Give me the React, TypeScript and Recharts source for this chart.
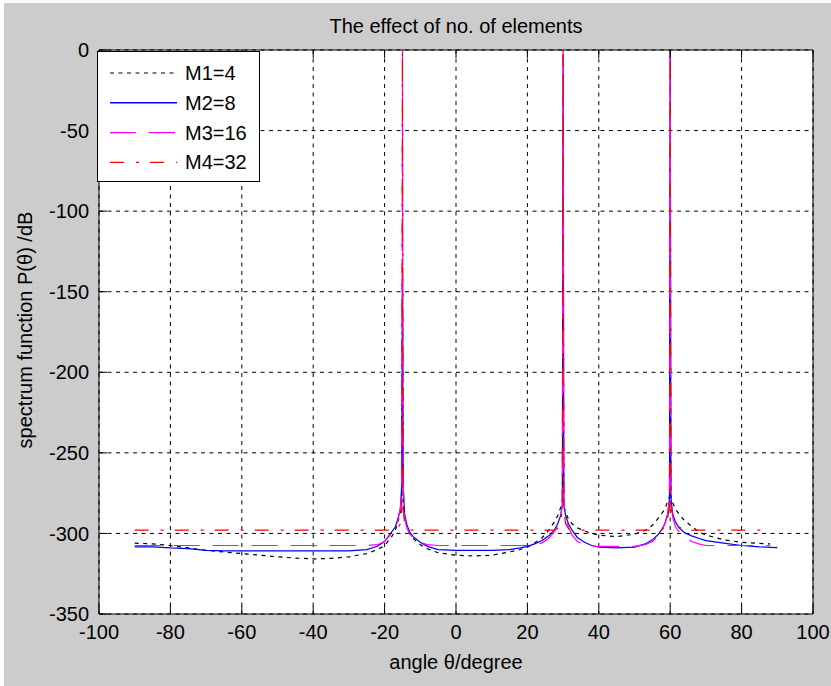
import React from "react";
import { LineChart, Line, XAxis, YAxis, CartesianGrid, Legend } from "recharts";

// angle grid (degrees), denser around the three sources
const angles = [
  -90, -85, -80, -75, -70, -65, -60, -55, -50, -45, -40, -35, -30, -25, -22, -20, -18, -17, -16.3, -15.6,
  -15.2, -15, -14.8, -14.4, -13.7, -13, -12, -10, -8, -5, 0, 5, 10, 15, 18, 20, 22, 24, 26, 27.5,
  28.5, 29.3, 29.8, 30, 30.2, 30.7, 31.5, 32.5, 34, 36, 38, 40, 45, 50, 53, 55, 56.5, 57.5, 58.5, 59.3,
  59.8, 60, 60.2, 60.7, 61.5, 62.5, 64, 66, 68, 70, 75, 80, 85, 88, 90,
];

const m1 = [
  -306, -306.5, -307.5, -309, -310.5, -311.5, -312.5, -313.5, -314.5, -315.3, -315.8, -315.5, -314.5, -312.5, -310, -307.5, -302, -298, -293, -287,
  -280, -143, -280, -290, -296, -300, -303, -307, -309.5, -312, -313.5, -314, -313.5, -311.5, -310, -308.5, -306, -303, -298, -293,
  -289, -284, -282, -145, -283, -287, -291, -294, -296.5, -298.5, -300, -301, -302, -300.5, -298, -295, -291, -288, -285, -280,
  -277, -140, -277, -281, -285, -288, -292, -295.5, -299, -301, -304, -305.5, -306.2, -306.5, null,
];

const m2 = [
  -308.3, -308.3, -309, -309.4, -310.5, -310.8, -310.8, -310.8, -310.8, -310.8, -310.8, -310.8, -310.8, -310, -308, -305, -299, -296, -291, -285,
  -270, -143, -270, -288, -295, -299, -302, -305.5, -308, -310, -310.5, -310.5, -310.5, -310, -309, -308, -306.5, -304.5, -301.5, -298,
  -294, -289, -282, -3, -282, -289, -294, -298, -302.5, -305.5, -307.5, -308.5, -309, -308.5, -306.5, -304, -301, -298, -294, -288,
  -278, 0, -278, -288, -293, -296.5, -299.5, -301.5, -303, -304.5, -306, -307.5, -308.3, -308.6, -308.8,
];

const m3 = [
  -307.5, -307.5, -307.5, -307.5, -307.5, -307.5, -307.5, -307.5, -307.5, -307.5, -307.5, -307.5, -307.5, -307.5, -307, -305, -300, -297, -292, -285,
  -270, 0, -270, -290, -297, -300, -303, -305.5, -307, -307.5, -307.5, -307.5, -307.5, -307.5, -307.5, -307.5, -307, -306, -303, -299,
  -295, -290, -282, 0, -280, -290, -296, -301, -305, -307, -308, -308, -308, -308, -307, -305, -302, -299, -294, -288,
  -278, 0, -278, -290, -296, -299, -302, -305, -306.5, -307.5, -307.5, -307.5, -307.5, -307.5, null,
];

const m4 = [
  -298, -298, -298, -298, -298, -298, -298, -298, -298, -298, -298, -298, -298, -298, -298, -298, -298, -298, -297, -294,
  -285, 0, -285, -294, -297, -298, -298, -298, -298, -298, -298, -298, -298, -298, -298, -298, -298, -298, -298, -298,
  -297, -294, -285, 0, -285, -294, -297, -298, -298, -298, -298, -298, -298, -298, -298, -298, -298, -298, -296, -290,
  -284, 0, -284, -288, -292, -296, -298, -298, -298, -298, -298, -298, -298, -298, null,
];

const xTicks = [-100, -80, -60, -40, -20, 0, 20, 40, 60, 80, 100];
const yTicks = [-350, -300, -250, -200, -150, -100, -50, 0];

const seriesNames = ["M1=4", "M2=8", "M3=16", "M4=32"];

const chartData = angles.map((a, i) => ({ angle: a, m1: m1[i], m2: m2[i], m3: m3[i], m4: m4[i] }));

const FONT = "'Liberation Sans', Arial, Helvetica, sans-serif";
const TICK_LEN = 8;
const X_MARGIN = 11;
const Y_MARGIN = 10;

const styles = [
  { color: "#000000", dash: "4 4.5" },
  { color: "#0000ff", dash: undefined },
  { color: "#ff00ff", dash: "26 13" },
  { color: "#ff0000", dash: "14 12 3 11" },
];

function BottomTick(props: any) {
  const { x, y, payload } = props;
  const axisY = y - X_MARGIN;
  return (
    <g>
      <line x1={x} x2={x} y1={axisY} y2={axisY - TICK_LEN} stroke="#000" />
      <text x={x} y={y} dy="0.71em" textAnchor="middle" fontSize={20} fontFamily={FONT} fill="#000">
        {payload.value}
      </text>
    </g>
  );
}

function TopTick(props: any) {
  const { x, y } = props;
  return <line x1={x} x2={x} y1={y} y2={y + TICK_LEN} stroke="#000" />;
}

function LeftTick(props: any) {
  const { x, y, payload } = props;
  const axisX = x + Y_MARGIN;
  return (
    <g>
      <line x1={axisX} x2={axisX + TICK_LEN} y1={y} y2={y} stroke="#000" />
      <text x={x} y={y} dy="0.355em" textAnchor="end" fontSize={20} fontFamily={FONT} fill="#000">
        {payload.value}
      </text>
    </g>
  );
}

function RightTick(props: any) {
  const { x, y } = props;
  return <line x1={x} x2={x - TICK_LEN} y1={y} y2={y} stroke="#000" />;
}

function LegendBox() {
  return (
    <div
      style={{
        width: 163,
        height: 131,
        boxSizing: "border-box",
        border: "1px solid #000",
        background: "#fff",
      }}
    >
      <svg width={161} height={129}>
        {seriesNames.map((name, i) => {
          const cy = 21 + i * 29.8;
          return (
            <g key={name}>
              <line
                x1={12}
                x2={79}
                y1={cy}
                y2={cy}
                stroke={styles[i].color}
                strokeWidth={i === 1 ? 1.5 : 1.2}
                strokeDasharray={styles[i].dash}
              />
              <text x={87} y={cy + 7} fontSize={20} fontFamily={FONT} fill="#000">
                {name}
              </text>
            </g>
          );
        })}
      </svg>
    </div>
  );
}

export default function App() {
  return (
    <div
      style={{
        position: "absolute",
        left: 0,
        top: 0,
        width: 831,
        height: 686,
        background: "#ffffff",
      }}
    >
      <div style={{ position: "absolute", left: 4, top: 3, width: 827, height: 683, background: "#cccccc" }} />
      <div style={{ position: "absolute", left: 0, top: 0 }}>
        <LineChart width={831} height={686} data={chartData} margin={{ top: 49, right: 17, bottom: 71, left: 98 }}>
          <CartesianGrid
            stroke="#000"
            strokeDasharray="4 4.5"
            fill="#ffffff"
            fillOpacity={1}
            horizontalValues={yTicks}
            verticalValues={xTicks}
          />
          <XAxis
            dataKey="angle"
            type="number"
            domain={[-100, 100]}
            ticks={xTicks}
            height={1}
            tickSize={0}
            tickMargin={X_MARGIN}
            tickLine={false}
            tick={<BottomTick />}
            axisLine={{ stroke: "#000" }}
            interval={0}
            label={{
              value: "angle θ/degree",
              position: "bottom",
              offset: 40,
              style: { fontSize: 20, fontFamily: FONT, fill: "#000" },
            }}
          />
          <XAxis
            xAxisId="top"
            orientation="top"
            dataKey="angle"
            type="number"
            domain={[-100, 100]}
            ticks={xTicks}
            height={1}
            tickSize={0}
            tickMargin={0}
            tickLine={false}
            tick={<TopTick />}
            axisLine={{ stroke: "#000" }}
            interval={0}
            label={{
              value: "The effect of no. of elements",
              position: "top",
              offset: 16,
              style: { fontSize: 20, fontFamily: FONT, fill: "#000" },
            }}
          />
          <YAxis
            type="number"
            domain={[-350, 0]}
            ticks={yTicks}
            width={1}
            tickSize={0}
            tickMargin={Y_MARGIN}
            tickLine={false}
            tick={<LeftTick />}
            axisLine={{ stroke: "#000" }}
            interval={0}
            label={{
              content: (p: any) => {
                const vb = p.viewBox || { x: 98, y: 50, width: 1, height: 564 };
                const cx = vb.x + (vb.width || 0) - 67;
                const cy = vb.y + vb.height / 2 - 2;
                return (
                  <text
                    x={cx}
                    y={cy}
                    transform={`rotate(-90 ${cx} ${cy})`}
                    textAnchor="middle"
                    fontSize={20}
                    fontFamily={FONT}
                    fill="#000"
                  >
                    spectrum function P(θ) /dB
                  </text>
                );
              },
            }}
          />
          <YAxis
            yAxisId="right"
            orientation="right"
            type="number"
            domain={[-350, 0]}
            ticks={yTicks}
            width={1}
            tickSize={0}
            tickMargin={0}
            tickLine={false}
            tick={<RightTick />}
            axisLine={{ stroke: "#000" }}
            interval={0}
          />
          <Legend
            layout="vertical"
            align="center"
            verticalAlign="middle"
            wrapperStyle={{ left: 97, top: 51, width: 163, height: 131 }}
            content={() => <LegendBox />}
          />
          {(["m1", "m2", "m3", "m4"] as const).map((key, i) => (
            <Line
              key={key}
              dataKey={key}
              name={seriesNames[i]}
              type="linear"
              stroke={styles[i].color}
              strokeWidth={1.2}
              strokeDasharray={styles[i].dash}
              dot={false}
              activeDot={false}
              isAnimationActive={false}
            />
          ))}
        </LineChart>
      </div>
    </div>
  );
}
